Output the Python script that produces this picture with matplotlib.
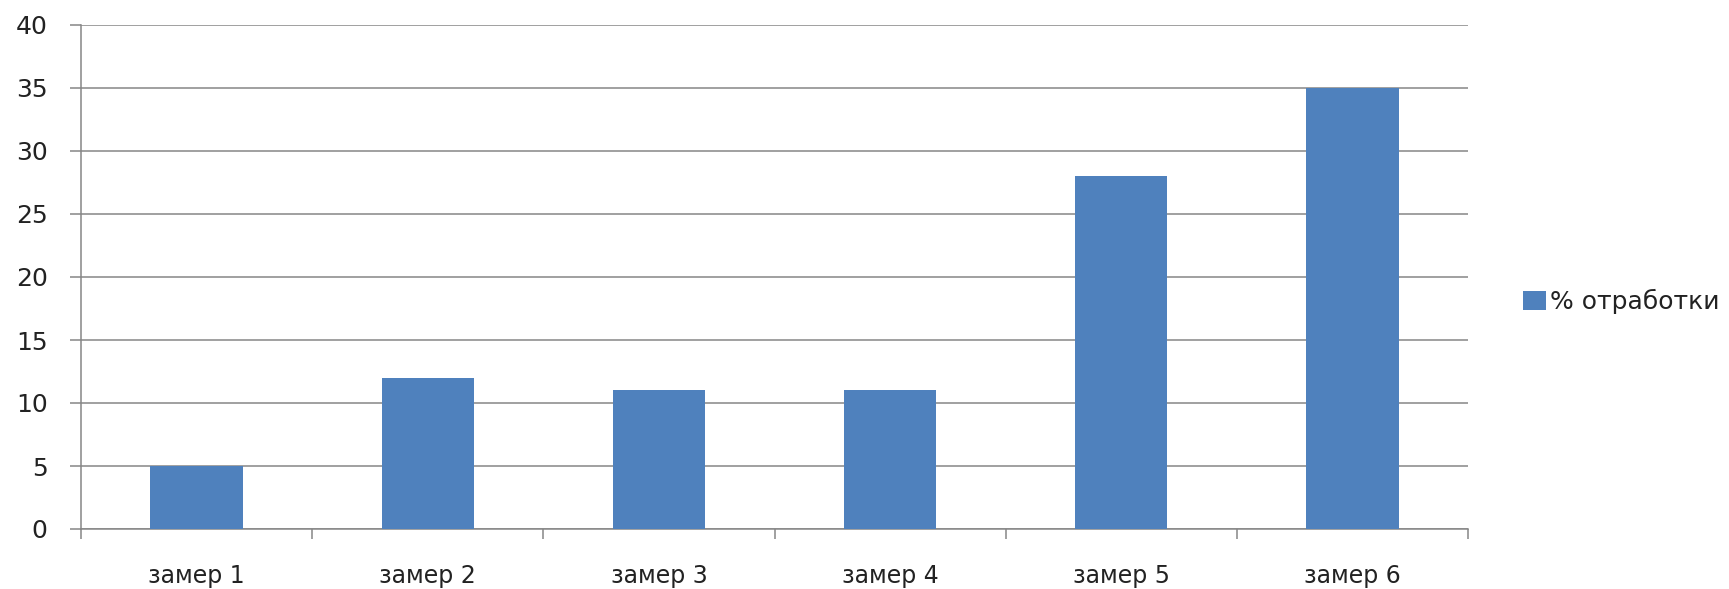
import matplotlib
matplotlib.use("Agg")
import matplotlib.pyplot as plt
import numpy as np

# chart data
categories = ["замер 1", "замер 2", "замер 3", "замер 4", "замер 5", "замер 6"]
values = [5, 12, 11, 11, 28, 35]
series_name = "% отработки"
y_ticks = [0, 5, 10, 15, 20, 25, 30, 35, 40]

BAR_COLOR = "#4F81BD"
GRID_COLOR = "#868686"
TEXT_COLOR = "#222222"

plt.rcParams['font.family'] = ['DejaVu Sans']

W, H = 1729, 589
fig = plt.figure(figsize=(W / 100, H / 100), dpi=100)
ax = fig.add_axes([81 / W, (H - 529) / H, (1468 - 81) / W, (529 - 25) / H])

x = np.arange(len(categories))
ax.bar(x, values, width=0.4, color=BAR_COLOR, label=series_name, zorder=3)

ax.set_xlim(-0.5, len(categories) - 0.5)
ax.set_ylim(0, 40)
ax.set_yticks(y_ticks)
ax.yaxis.grid(True, color=GRID_COLOR, linewidth=1.1, zorder=0)

for side in ["top", "right"]:
    ax.spines[side].set_visible(False)
for side in ["left", "bottom"]:
    ax.spines[side].set_color(GRID_COLOR)
    ax.spines[side].set_linewidth(1.1)

ax.tick_params(axis="y", length=8, width=1.1, color=GRID_COLOR, pad=16,
               labelsize=18, labelcolor=TEXT_COLOR)
ax.set_xticks(x)
ax.set_xticklabels(categories)
ax.set_xticks(np.arange(-0.5, len(categories)), minor=True)
ax.tick_params(axis="x", which="major", length=0, pad=25, labelsize=17,
               labelcolor=TEXT_COLOR)
ax.tick_params(axis="x", which="minor", length=7, width=1.1, color=GRID_COLOR)

leg = ax.legend(loc="center left", bbox_to_anchor=(1.0397, 0.452), frameon=False,
                fontsize=18, handlelength=0.92, handleheight=0.8,
                handletextpad=0.16, borderaxespad=0, borderpad=0)
for t in leg.get_texts():
    t.set_color(TEXT_COLOR)

fig.savefig("out.png", dpi=100, facecolor="white")
